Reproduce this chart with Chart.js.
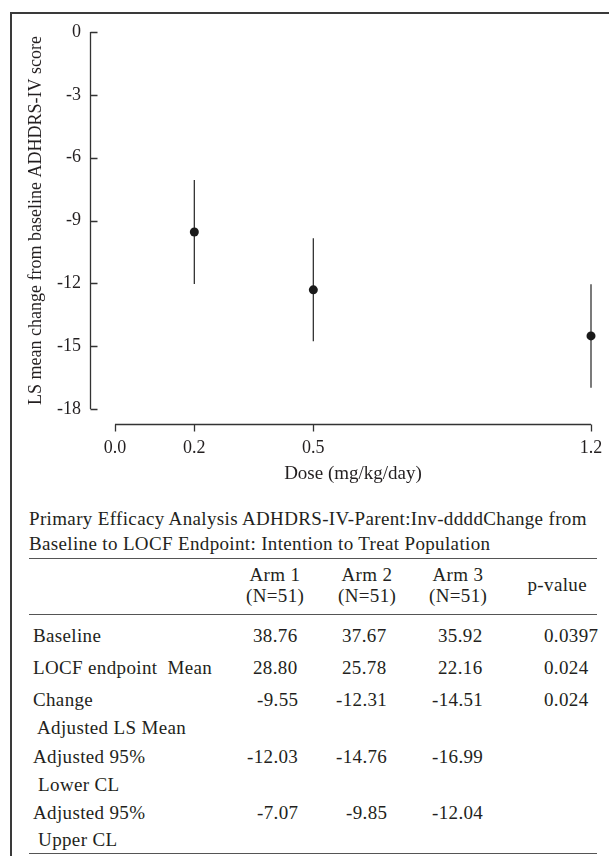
<!DOCTYPE html>
<html>
<head>
<meta charset="utf-8">
<script src="https://cdn.jsdelivr.net/npm/chart.js@4.4.1/dist/chart.umd.min.js"></script>
<style>
  html, body { margin: 0; padding: 0; background: #fff; overflow: hidden; }
  body { width: 609px; height: 856px; position: relative; font-family: "Liberation Serif", serif; color: #231f20; }
  .edge { position: absolute; background: #3a3a3a; }
  #edgeTop { left: 10px; top: 12px; width: 599px; height: 1.5px; }
  #edgeLeft { left: 10px; top: 12px; width: 1.5px; height: 844px; }
  #wrap { position: absolute; left: 0; top: 0; width: 609px; height: 500px; }
  .t { position: absolute; font-size: 19px; letter-spacing: 0.35px; line-height: 20px; white-space: pre; }
  .rule { position: absolute; left: 29px; width: 568px; height: 0; border-top: 1.5px solid #555; }
</style>
</head>
<body>
<div class="edge" id="edgeTop"></div>
<div class="edge" id="edgeLeft"></div>
<div id="wrap"><canvas id="graph1" width="609" height="500"></canvas></div>
<div id="table"></div>
<script>
// chart data
const doses = [0.2, 0.5, 1.2];
const lsMean = [-9.55, -12.31, -14.51];
const lowerCL = [-12.03, -14.76, -16.99];
const upperCL = [-7.07, -9.85, -12.04];
const xTicks = [0.0, 0.2, 0.5, 1.2];
const yTicks = [0, -3, -6, -9, -12, -15, -18];

// table data
const arms = ['Arm 1', 'Arm 2', 'Arm 3'];
const armN = [51, 51, 51];
const baseline = ['38.76', '37.67', '35.92'];
const locfMean = ['28.80', '25.78', '22.16'];
const pValues = ['0.0397', '0.024', '0.024'];

const ink = '#231f20';
const tickFont = { family: 'Liberation Serif', size: 18 };
const titleFont = { family: 'Liberation Serif', size: 19 };

// R style detached axes
const rAxes = {
  id: 'rAxes',
  afterDraw(chart) {
    const { ctx, chartArea: a, scales: { x, y } } = chart;
    ctx.save();
    ctx.strokeStyle = '#333';
    ctx.lineWidth = 1.3;
    const yx = Math.round(a.left - 25) + 0.5;
    const xy = Math.round(a.bottom + 15) + 0.5;
    ctx.beginPath();
    ctx.moveTo(yx, y.getPixelForValue(0));
    ctx.lineTo(yx, y.getPixelForValue(-18));
    yTicks.forEach(v => {
      const p = Math.round(y.getPixelForValue(v)) + 0.5;
      ctx.moveTo(yx, p); ctx.lineTo(yx + 7, p);
    });
    ctx.moveTo(x.getPixelForValue(0), xy);
    ctx.lineTo(x.getPixelForValue(1.2), xy);
    xTicks.forEach(v => {
      const p = Math.round(x.getPixelForValue(v)) + 0.5;
      ctx.moveTo(p, xy); ctx.lineTo(p, xy + 7);
    });
    ctx.stroke();
    ctx.restore();
  }
};

let ctx = document.querySelector('#graph1');

const barSets = doses.map((d, i) => ({
  type: 'line',
  data: [{ x: d, y: lowerCL[i] }, { x: d, y: upperCL[i] }],
  borderColor: '#333',
  borderWidth: 1.3,
  pointRadius: 0,
  clip: false,
  order: 2
}));

const config = {
  type: 'scatter',
  data: {
    datasets: [{
      data: doses.map((d, i) => ({ x: d, y: lsMean[i] })),
      backgroundColor: '#1a1a1a',
      borderWidth: 0,
      pointRadius: 4.5,
      clip: false,
      order: 1
    }, ...barSets]
  },
  options: {
    responsive: false,
    animation: false,
    devicePixelRatio: 1,
    layout: { padding: { left: 10, top: 32, right: 18, bottom: 0 } },
    plugins: { legend: { display: false }, tooltip: { enabled: false } },
    scales: {
      x: {
        type: 'linear', min: 0, max: 1.2,
        afterBuildTicks: s => { s.ticks = xTicks.map(v => ({ value: v })); },
        afterFit: s => { s.height = 91; },
        // tick marks are drawn by rAxes, tickLength only pushes the labels down
        grid: { display: false, drawTicks: true, tickLength: 25 },
        border: { display: false },
        ticks: { callback: v => v.toFixed(1), padding: 3, font: tickFont, color: ink, maxRotation: 0, autoSkip: false },
        title: { display: true, text: 'Dose (mg/kg/day)', font: titleFont, color: ink, padding: { top: 0, bottom: 15 } }
      },
      y: {
        type: 'linear', min: -18, max: 0,
        afterBuildTicks: s => { s.ticks = yTicks.map(v => ({ value: v })); },
        afterFit: s => { s.width = 105; },
        grid: { display: false, drawTicks: true, tickLength: 31 },
        border: { display: false },
        ticks: { padding: 3, font: tickFont, color: ink, autoSkip: false },
        title: { display: true, text: 'LS mean change from baseline ADHDRS-IV score', font: tickFont, color: ink, padding: { top: 15, bottom: 0 } }
      }
    }
  },
  plugins: [rAxes]
};

const graph1 = new Chart(ctx, config);

// table below the chart
const table = document.getElementById('table');
function put(text, x, y, align) {
  const el = document.createElement('div');
  el.className = 't';
  el.textContent = text;
  table.appendChild(el);
  const w = el.offsetWidth;
  let left = x;
  if (align === 'center') left = x - w / 2;
  if (align === 'right') left = x - w;
  el.style.left = left + 'px';
  el.style.top = (y - 10) + 'px';
}
function rule(y) {
  const el = document.createElement('div');
  el.className = 'rule';
  el.style.top = y + 'px';
  table.appendChild(el);
}

put('Primary Efficacy Analysis ADHDRS-IV-Parent:Inv-ddddChange from', 29, 519, 'left');
put('Baseline to LOCF Endpoint: Intention to Treat Population', 29, 544, 'left');
rule(558);
const colCenter = [275, 367, 458];
const colRight = [298, 387, 483];
arms.forEach((a, i) => {
  put(a, colCenter[i], 575, 'center');
  put('(N=' + armN[i] + ')', colCenter[i], 596, 'center');
});
put('p-value', 557, 585, 'center');
rule(614);

const rows = [
  { label: 'Baseline', y: 636, vals: baseline, p: pValues[0] },
  { label: 'LOCF endpoint  Mean', y: 668, vals: locfMean, p: pValues[1] },
  { label: 'Change', y: 700, vals: lsMean.map(v => v.toFixed(2)), p: pValues[2] },
  { label: ' Adjusted LS Mean', y: 728 },
  { label: 'Adjusted 95%', y: 757, vals: lowerCL.map(v => v.toFixed(2)) },
  { label: ' Lower CL', y: 785 },
  { label: 'Adjusted 95%', y: 813, vals: upperCL.map(v => v.toFixed(2)) },
  { label: ' Upper CL', y: 840 }
];
rows.forEach(r => {
  put(r.label, 33, r.y, 'left');
  if (r.vals) r.vals.forEach((v, i) => put(v, colRight[i], r.y, 'right'));
  if (r.p) put(r.p, 544, r.y, 'left');
});
rule(853);
</script>
</body>
</html>
